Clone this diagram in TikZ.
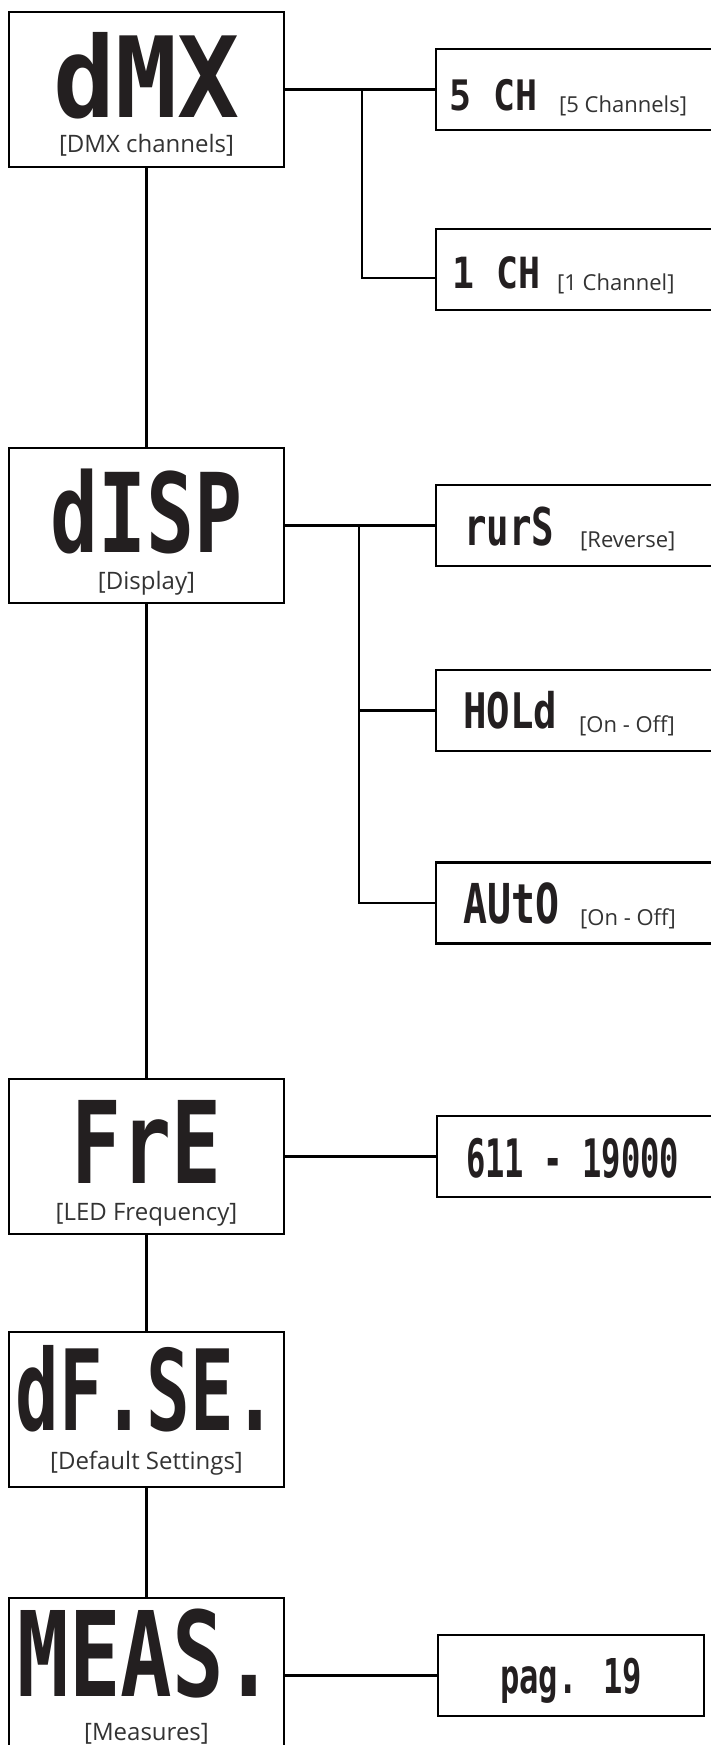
\documentclass[tikz,border=0pt]{standalone}
\usepackage{fontspec}
\usepackage{graphicx}
\setmainfont{Open Sans}
\newfontfamily\segfont{DejaVu Sans Mono}
\definecolor{segblack}{HTML}{231F20}
\definecolor{labgray}{HTML}{333333}
\newcommand\segtxt[3]{\raisebox{0pt}[\height][0pt]{\resizebox{#1}{\height}{\fontsize{#2}{#2}\segfont\bfseries #3}}}
\begin{document}
\begin{tikzpicture}[x=1pt,y=-1pt,
  lbox/.style={draw=black, line width=2.4pt, minimum width=275pt, minimum height=155pt, inner sep=0pt},
  rbox/.style={draw=black, line width=2.4pt, minimum width=285pt, minimum height=81pt, inner sep=0pt, anchor=west},
  seg/.style={inner sep=0pt, text=segblack},
  lab/.style={inner sep=0pt, text=labgray, font=\fontsize{24}{24}\selectfont, anchor=base},
  slab/.style={inner sep=0pt, text=labgray, font=\fontsize{22}{22}\selectfont, anchor=base west},
  conn/.style={line width=2.2pt, draw=black}
]
\useasboundingbox (0,0) rectangle (710,1745);
% left column boxes
\node[lbox] (dmx) at (146.5,89.5) {};
\node[lbox] (disp) at (146.5,525.5) {};
\node[lbox] (fre) at (146.5,1156.5) {};
\node[lbox] (dfse) at (146.5,1409.5) {};
\node[lbox] (meas) at (146.5,1675.5) {};
% right boxes
\node[rbox] (s5) at (435,89.5) {};
\node[rbox] (c1) at (435,269.5) {};
\node[rbox] (rurs) at (435,525.5) {};
\node[rbox] (hold) at (435,710.5) {};
\node[rbox] (auto) at (435,903) {};
\node[rbox] (f611) at (436,1156.5) {};
\node[rbox, minimum width=266pt] (pag) at (437,1675.5) {};
% connectors
\draw[conn] (dmx.east) -- (dmx.east -| s5.west);
\coordinate (j1) at (362,89.5);
\coordinate (c1in) at (435,278);
\draw[conn] (j1) |- (c1in);
\draw[conn] (disp.east) -- (disp.east -| rurs.west);
\coordinate (j2) at (359,525.5);
\draw[conn] (j2) |- (hold.west);
\draw[conn] (j2) |- (auto.west);
\draw[conn] (fre.east) -- (fre.east -| f611.west);
\draw[conn] (meas.east) -- (meas.east -| pag.west);
\draw[conn] (dmx.south) -- (disp.north);
\draw[conn] (disp.south) -- (fre.north);
\draw[conn] (fre.south) -- (dfse.north);
\draw[conn] (dfse.south) -- (meas.north);
% segment texts, left
\node[seg, anchor=base] (tdmx) at (146.5,117) {\segtxt{186pt}{112pt}{dMX}};
\node[seg, anchor=base] (tdisp) at (146.5,552) {\segtxt{192pt}{110pt}{dISP}};
\node[seg, anchor=base] (tfre) at (146.5,1183) {\segtxt{150pt}{114pt}{FrE}};
\node[seg, anchor=base] (tdfse) at (146.5,1430) {\segtxt{262pt}{112pt}{dF.SE.}};
\node[seg, anchor=base] (tmeas) at (146.5,1696) {\segtxt{258pt}{118pt}{MEAS.}};
% labels, left
\node[lab] (ldmx) at (146.5,152) {[DMX channels]};
\node[lab] (ldisp) at (146.5,589) {[Display]};
\node[lab] (lfre) at (146.5,1220) {[LED Frequency]};
\node[lab] (ldfse) at (146.5,1469) {[Default Settings]};
\node[lab] (lmeas) at (146.5,1740) {[Measures]};
% right texts
\node[seg, anchor=base west] (t5) at (449,110) {\segtxt{88pt}{42pt}{5 CH}};
\node[slab] (l5) at (559,112) {[5 Channels]};
\node[seg, anchor=base west] (t1) at (452,288) {\segtxt{88pt}{43pt}{1 CH}};
\node[slab] (l1) at (557,290) {[1 Channel]};
\node[seg, anchor=base west] (trurs) at (464,545) {\segtxt{90pt}{52pt}{rurS}};
\node[slab] (lrurs) at (580,547) {[Reverse]};
\node[seg, anchor=base west] (thold) at (463,728) {\segtxt{94pt}{49pt}{HOLd}};
\node[slab] (lhold) at (579,732) {[On - Off]};
\node[seg, anchor=base west] (tauto) at (463,923) {\segtxt{96pt}{55pt}{AUtO}};
\node[slab] (lauto) at (580,925) {[On - Off]};
\node[seg, anchor=base west] (t611) at (466,1177) {\segtxt{213pt}{53pt}{611 - 19000}};
\node[seg, anchor=base west] (tpag) at (500,1693) {\segtxt{142pt}{48pt}{pag. 19}};
\end{tikzpicture}
\end{document}
